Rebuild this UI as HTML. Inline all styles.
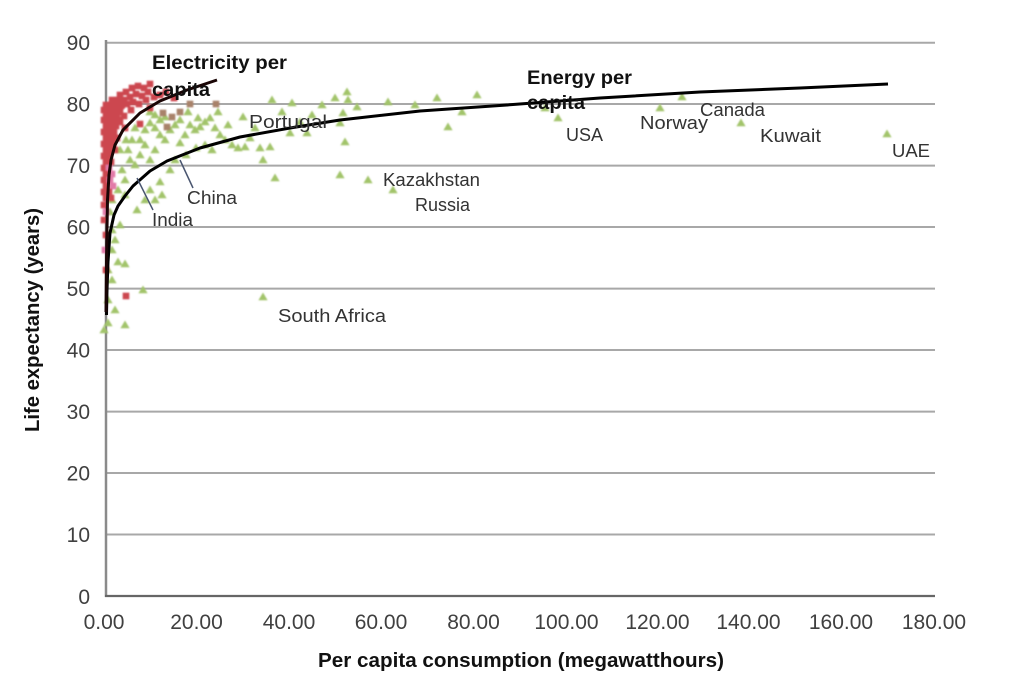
<!DOCTYPE html>
<html>
<head>
<meta charset="utf-8">
<style>
html,body{margin:0;padding:0;background:#fff;}
svg{display:block;}
text{font-family:"Liberation Sans",Arial,sans-serif;}
</style>
</head>
<body>
<svg width="1020" height="678" viewBox="0 0 1020 678" xmlns="http://www.w3.org/2000/svg">
<defs>
  <path id="t" d="M0,-4.5 L4.6,3.2 L-4.6,3.2 Z" fill="#a2c46a"/>
  <rect id="s" x="-3.3" y="-3.3" width="6.6" height="6.6" fill="#cc474f"/>
  <rect id="p" x="-3.3" y="-3.3" width="6.6" height="6.6" fill="#e27aa8"/>
  <rect id="b" x="-3.3" y="-3.3" width="6.6" height="6.6" fill="#a8826a"/>
  <filter id="bl" x="-5%" y="-5%" width="110%" height="110%"><feGaussianBlur stdDeviation="0.9"/></filter>
</defs>
<rect width="1020" height="678" fill="#ffffff"/>

<!-- gridlines -->
<g stroke="#a8a8a8" stroke-width="2">
  <line x1="106" y1="42.7" x2="935" y2="42.7"/>
  <line x1="106" y1="104" x2="935" y2="104"/>
  <line x1="106" y1="165.6" x2="935" y2="165.6"/>
  <line x1="106" y1="227" x2="935" y2="227"/>
  <line x1="106" y1="288.6" x2="935" y2="288.6"/>
  <line x1="106" y1="350" x2="935" y2="350"/>
  <line x1="106" y1="411.6" x2="935" y2="411.6"/>
  <line x1="106" y1="473" x2="935" y2="473"/>
  <line x1="106" y1="534.5" x2="935" y2="534.5"/>
</g>
<!-- axes -->
<line x1="106" y1="40" x2="106" y2="597" stroke="#8a8a8a" stroke-width="2.5"/>
<line x1="105" y1="596" x2="935" y2="596" stroke="#666" stroke-width="2.2"/>

<!-- y tick labels -->
<g font-size="21" fill="#404040" text-anchor="end">
  <text x="90" y="50">90</text>
  <text x="90" y="111.5">80</text>
  <text x="90" y="173">70</text>
  <text x="90" y="234.5">60</text>
  <text x="90" y="296">50</text>
  <text x="90" y="357.5">40</text>
  <text x="90" y="419">30</text>
  <text x="90" y="480.5">20</text>
  <text x="90" y="542">10</text>
  <text x="90" y="604">0</text>
</g>
<!-- x tick labels -->
<g font-size="21" fill="#404040" text-anchor="middle">
  <text x="104" y="629">0.00</text>
  <text x="196.5" y="629">20.00</text>
  <text x="289" y="629">40.00</text>
  <text x="381" y="629">60.00</text>
  <text x="473.5" y="629">80.00</text>
  <text x="566.5" y="629">100.00</text>
  <text x="657.5" y="629">120.00</text>
  <text x="748.5" y="629">140.00</text>
  <text x="841" y="629">160.00</text>
  <text x="934" y="629">180.00</text>
</g>

<!-- axis titles -->
<text x="318" y="667" font-size="20" font-weight="bold" fill="#111" textLength="406" lengthAdjust="spacingAndGlyphs">Per capita consumption (megawatthours)</text>
<text transform="translate(39,432) rotate(-90)" x="0" y="0" font-size="20" font-weight="bold" fill="#111" textLength="224" lengthAdjust="spacingAndGlyphs">Life expectancy (years)</text>

<!-- scatter points -->
<g filter="url(#bl)">
  <!-- green triangles (energy) -->
  <use href="#t" x="108" y="270"/><use href="#t" x="112" y="250"/><use href="#t" x="118" y="262"/>
  <use href="#t" x="125" y="264"/><use href="#t" x="115" y="240"/><use href="#t" x="112" y="230"/>
  <use href="#t" x="120" y="225"/><use href="#t" x="108" y="300"/><use href="#t" x="115" y="310"/>
  <use href="#t" x="125" y="325"/><use href="#t" x="108" y="323"/><use href="#t" x="104" y="330"/>
  <use href="#t" x="143" y="290"/><use href="#t" x="112" y="280"/><use href="#t" x="110" y="212"/>
  <use href="#t" x="112" y="200"/><use href="#t" x="118" y="190"/><use href="#t" x="125" y="180"/>
  <use href="#t" x="122" y="170"/><use href="#t" x="130" y="160"/><use href="#t" x="128" y="150"/>
  <use href="#t" x="135" y="165"/><use href="#t" x="140" y="155"/><use href="#t" x="140" y="140"/>
  <use href="#t" x="145" y="130"/><use href="#t" x="150" y="123"/><use href="#t" x="155" y="115"/>
  <use href="#t" x="160" y="120"/><use href="#t" x="165" y="140"/><use href="#t" x="170" y="130"/>
  <use href="#t" x="175" y="125"/><use href="#t" x="180" y="143"/><use href="#t" x="185" y="135"/>
  <use href="#t" x="190" y="125"/><use href="#t" x="195" y="130"/><use href="#t" x="200" y="127"/>
  <use href="#t" x="205" y="122"/><use href="#t" x="210" y="118"/><use href="#t" x="215" y="128"/>
  <use href="#t" x="220" y="135"/><use href="#t" x="225" y="140"/><use href="#t" x="232" y="145"/>
  <use href="#t" x="238" y="148"/><use href="#t" x="212" y="150"/><use href="#t" x="205" y="145"/>
  <use href="#t" x="196" y="148"/><use href="#t" x="170" y="170"/><use href="#t" x="160" y="182"/>
  <use href="#t" x="150" y="190"/><use href="#t" x="145" y="200"/><use href="#t" x="137" y="210"/>
  <use href="#t" x="155" y="200"/><use href="#t" x="162" y="195"/><use href="#t" x="175" y="160"/>
  <use href="#t" x="186" y="155"/><use href="#t" x="150" y="112"/><use href="#t" x="165" y="117"/>
  <use href="#t" x="145" y="145"/><use href="#t" x="155" y="150"/><use href="#t" x="132" y="140"/>
  <use href="#t" x="150" y="160"/><use href="#t" x="160" y="135"/><use href="#t" x="188" y="112"/>
  <use href="#t" x="198" y="118"/><use href="#t" x="218" y="112"/><use href="#t" x="228" y="125"/>
  <use href="#t" x="120" y="150"/><use href="#t" x="126" y="140"/><use href="#t" x="135" y="128"/>
  <use href="#t" x="155" y="128"/><use href="#t" x="180" y="120"/><use href="#t" x="125" y="195"/>
  <use href="#t" x="243" y="117"/><use href="#t" x="245" y="147"/><use href="#t" x="260" y="148"/>
  <use href="#t" x="270" y="147"/><use href="#t" x="263" y="160"/><use href="#t" x="275" y="178"/>
  <use href="#t" x="272" y="100"/><use href="#t" x="292" y="103"/><use href="#t" x="322" y="105"/>
  <use href="#t" x="335" y="98"/><use href="#t" x="347" y="92"/><use href="#t" x="348" y="100"/>
  <use href="#t" x="357" y="107"/><use href="#t" x="343" y="113"/><use href="#t" x="340" y="123"/>
  <use href="#t" x="307" y="133"/><use href="#t" x="345" y="142"/><use href="#t" x="340" y="175"/>
  <use href="#t" x="368" y="180"/><use href="#t" x="393" y="190"/><use href="#t" x="388" y="102"/>
  <use href="#t" x="437" y="98"/><use href="#t" x="477" y="95"/><use href="#t" x="448" y="127"/>
  <use href="#t" x="462" y="112"/><use href="#t" x="263" y="297"/><use href="#t" x="250" y="138"/>
  <use href="#t" x="290" y="133"/><use href="#t" x="312" y="115"/><use href="#t" x="415" y="105"/>
  <use href="#t" x="282" y="112"/><use href="#t" x="255" y="128"/><use href="#t" x="300" y="122"/>
  <use href="#t" x="558" y="118"/><use href="#t" x="545" y="108"/><use href="#t" x="660" y="108"/>
  <use href="#t" x="682" y="97"/><use href="#t" x="741" y="123"/><use href="#t" x="887" y="134"/>

  <!-- red squares (electricity) -->
  <use href="#s" x="112" y="100"/><use href="#s" x="118" y="100"/>
  <use href="#s" x="106" y="105"/><use href="#s" x="110" y="105"/><use href="#s" x="116" y="105"/><use href="#s" x="122" y="105"/>
  <use href="#s" x="104" y="110"/><use href="#s" x="109" y="110"/><use href="#s" x="114" y="110"/><use href="#s" x="120" y="110"/>
  <use href="#s" x="106" y="115"/><use href="#s" x="111" y="115"/><use href="#s" x="117" y="115"/>
  <use href="#s" x="104" y="120"/><use href="#s" x="108" y="120"/><use href="#s" x="113" y="120"/><use href="#s" x="119" y="120"/>
  <use href="#s" x="106" y="126"/><use href="#s" x="111" y="126"/><use href="#s" x="116" y="126"/>
  <use href="#s" x="104" y="132"/><use href="#s" x="109" y="132"/><use href="#s" x="114" y="132"/>
  <use href="#s" x="106" y="138"/><use href="#s" x="111" y="138"/><use href="#s" x="117" y="138"/>
  <use href="#s" x="104" y="144"/><use href="#s" x="108" y="144"/><use href="#s" x="113" y="144"/>
  <use href="#s" x="106" y="150"/><use href="#s" x="110" y="150"/><use href="#s" x="115" y="150"/>
  <use href="#s" x="104" y="156"/><use href="#s" x="109" y="156"/>
  <use href="#s" x="106" y="162"/><use href="#s" x="111" y="162"/>
  <use href="#s" x="104" y="168"/><use href="#p" x="109" y="168"/>
  <use href="#s" x="106" y="174"/><use href="#p" x="112" y="174"/>
  <use href="#s" x="104" y="180"/><use href="#p" x="110" y="180"/>
  <use href="#s" x="106" y="186"/><use href="#p" x="113" y="186"/>
  <use href="#s" x="104" y="192"/><use href="#s" x="109" y="192"/>
  <use href="#s" x="106" y="198"/><use href="#s" x="111" y="198"/>
  <use href="#s" x="104" y="205"/><use href="#p" x="106" y="212"/><use href="#s" x="104" y="220"/>
  <use href="#s" x="106" y="235"/><use href="#p" x="105" y="250"/><use href="#s" x="106" y="270"/>
  <use href="#s" x="126" y="296"/>
  <use href="#s" x="120" y="95"/><use href="#s" x="126" y="92"/><use href="#s" x="132" y="88"/>
  <use href="#s" x="138" y="86"/><use href="#s" x="144" y="88"/><use href="#s" x="150" y="84"/>
  <use href="#s" x="124" y="100"/><use href="#s" x="130" y="97"/><use href="#s" x="136" y="94"/>
  <use href="#s" x="142" y="96"/><use href="#s" x="148" y="92"/><use href="#s" x="121" y="106"/>
  <use href="#s" x="127" y="104"/><use href="#s" x="133" y="102"/><use href="#s" x="139" y="104"/>
  <use href="#s" x="146" y="100"/><use href="#s" x="154" y="97"/><use href="#s" x="160" y="95"/>
  <use href="#s" x="166" y="92"/><use href="#s" x="118" y="112"/><use href="#s" x="124" y="116"/>
  <use href="#s" x="131" y="110"/><use href="#s" x="120" y="122"/><use href="#s" x="125" y="128"/>
  <use href="#s" x="150" y="108"/><use href="#s" x="140" y="124"/><use href="#s" x="174" y="98"/>
  <use href="#b" x="163" y="113"/><use href="#b" x="172" y="117"/><use href="#b" x="180" y="112"/>
  <use href="#b" x="167" y="127"/><use href="#b" x="216" y="104"/><use href="#b" x="190" y="104"/>
</g>

<!-- fitted curves -->
<path d="M106.5,315 L107,290 L108,262 L110,233 L114,215 L118,206 L125,196 L133,186 L150,171 L167,161 L200,148 L240,137 L290,128 L340,120 L420,111 L507,105 L600,98 L700,92 L800,88 L888,84"
      fill="none" stroke="#000" stroke-width="3" stroke-linejoin="round"/>
<path d="M106,312 L106.3,280 L106.7,245 L107.5,200 L109,175 L111,160 L115,145 L123,130 L140,113 L160,101 L187,90 L217,80"
      fill="none" stroke="#1a0505" stroke-width="3" stroke-linejoin="round"/>

<!-- leader lines -->
<g stroke="#4a5670" stroke-width="1.5">
  <line x1="193" y1="188" x2="180" y2="160"/>
  <line x1="153" y1="210" x2="137" y2="178"/>
</g>

<!-- series labels -->
<g font-weight="bold" font-size="19" fill="#111">
  <text x="152" y="69" textLength="135" lengthAdjust="spacingAndGlyphs">Electricity per</text>
  <text x="152" y="96" textLength="58" lengthAdjust="spacingAndGlyphs">capita</text>
  <text x="527" y="84" textLength="105" lengthAdjust="spacingAndGlyphs">Energy per</text>
  <text x="527" y="109" textLength="58" lengthAdjust="spacingAndGlyphs">capita</text>
</g>

<!-- country labels -->
<g font-size="18" fill="#333">
  <text x="249" y="128" textLength="78" lengthAdjust="spacingAndGlyphs">Portugal</text>
  <text x="566" y="141" textLength="37" lengthAdjust="spacingAndGlyphs">USA</text>
  <text x="640" y="129" textLength="68" lengthAdjust="spacingAndGlyphs">Norway</text>
  <text x="700" y="116" textLength="65" lengthAdjust="spacingAndGlyphs">Canada</text>
  <text x="760" y="142" textLength="61" lengthAdjust="spacingAndGlyphs">Kuwait</text>
  <text x="892" y="157" textLength="38" lengthAdjust="spacingAndGlyphs">UAE</text>
  <text x="383" y="186" textLength="97" lengthAdjust="spacingAndGlyphs">Kazakhstan</text>
  <text x="415" y="211" textLength="55" lengthAdjust="spacingAndGlyphs">Russia</text>
  <text x="187" y="204" textLength="50" lengthAdjust="spacingAndGlyphs">China</text>
  <text x="152" y="226" textLength="41" lengthAdjust="spacingAndGlyphs">India</text>
  <text x="278" y="322" textLength="108" lengthAdjust="spacingAndGlyphs">South Africa</text>
</g>
</svg>
</body>
</html>
